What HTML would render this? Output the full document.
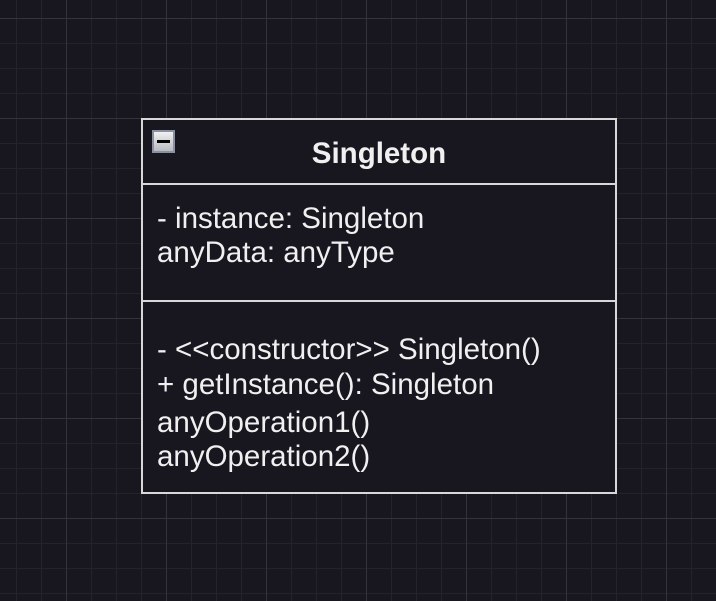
<!DOCTYPE html>
<html><head><style>
body{margin:0;width:716px;height:601px;overflow:hidden;background-color:#18161e;
background-image:
linear-gradient(#34323a 1px,transparent 1px),
linear-gradient(90deg,#34323a 1px,transparent 1px),
linear-gradient(#24222a 1px,transparent 1px),
linear-gradient(90deg,#24222a 1px,transparent 1px);
background-size:100px 100px,100px 100px,25px 25px,25px 25px;
background-position:0 18px,66px 0,0 18px,16px 0;
font-family:"Liberation Sans",sans-serif;color:#f0f0f0;position:relative}
.box{position:absolute;left:141px;top:118px;width:472px;height:372px;border:2px solid #d8d8d8;background:#18161e}
.hd{height:63px;border-bottom:2px solid #d8d8d8;position:relative}
.hd b{position:absolute;left:0;right:0;top:17px;text-align:center;font-size:29.5px}
.tg{position:absolute;left:9px;top:10px;width:23px;height:23px;background:linear-gradient(#f0f0f0,#b8b8c0);border:2px solid #8a90a0;box-sizing:border-box}
.tg:after{content:"";position:absolute;left:3px;right:3px;top:8px;height:3px;background:#000}
.at{height:117px;border-bottom:2px solid #d8d8d8;padding:17px 0 0 14px;box-sizing:border-box;font-size:29.5px;line-height:34px}
.op{padding:30px 0 0 14px;font-size:29.5px;line-height:35px}
.op div:nth-child(3){margin-top:3px}
</style></head><body>
<div class="box">
<div class="hd"><div class="tg"></div><b>Singleton</b></div>
<div class="at">- instance: Singleton<br>anyData: anyType</div>
<div class="op"><div>- &lt;&lt;constructor&gt;&gt; Singleton()</div><div>+ getInstance(): Singleton</div><div>anyOperation1()</div><div style="margin-top:-1px">anyOperation2()</div></div>
</div>
</body></html>
